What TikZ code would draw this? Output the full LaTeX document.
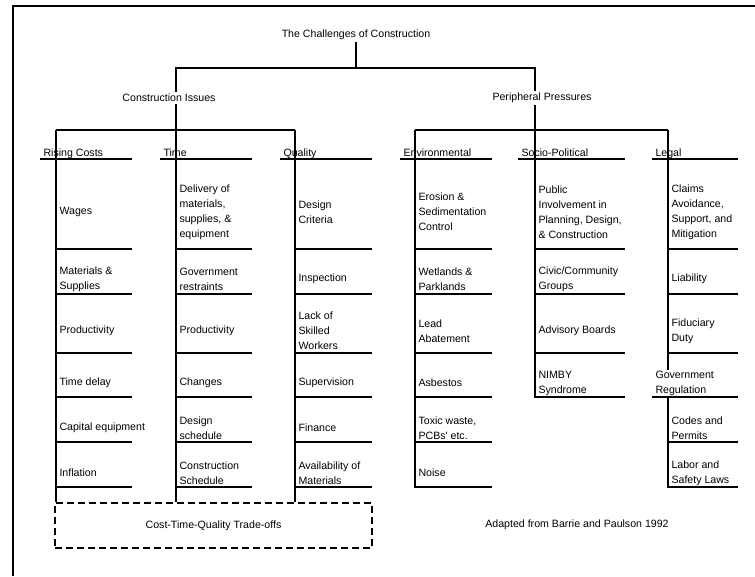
\documentclass[tikz,border=0pt]{standalone}
\usepackage{fontspec}
\setmainfont{Liberation Sans}

\begin{document}
\begin{tikzpicture}[x=1pt, y=-1pt, line width=1.1pt,
    every node/.style={font=\fontsize{10.6}{15}\selectfont},
    lbl/.style={inner sep=2pt},
    head/.style={anchor=base west, inner sep=0pt},
    cell/.style={anchor=west, align=left, inner sep=0pt},
    rule/.style={line width=1.5pt},
    tradeoff/.style={draw, line width=2pt, dash pattern=on 7pt off 4pt,
      minimum width=317pt, minimum height=45pt, inner sep=0pt}]
  \useasboundingbox (0,0) rectangle (755,576);
  \draw[line width=1.5pt] (13,576) -- (13,6);
  \draw[line width=2.5pt] (12.25,6) -- (755,6);

  \node[lbl] (top) at (356,35) {The Challenges of Construction};
  \node[lbl] (ci) at (169,98) {Construction Issues};
  \node[lbl] (pp) at (542,98) {Peripheral Pressures};
  \node[tradeoff] (box) at (213.5,525.5) {Cost-Time-Quality Trade-offs};
  \node[lbl] (src) at (577,525) {Adapted from Barrie and Paulson 1992};

  \coordinate (hub) at (top.south |- 0,68);
  \coordinate (rcx) at (56,130);
  \coordinate (tmx) at (176,130);
  \coordinate (qlx) at (295,130);
  \coordinate (envx) at (415,130);
  \coordinate (socx) at (535,130);
  \coordinate (lglx) at (668,130);

  \foreach \n/\l/\r/\t in {rc/40/132/Rising Costs, tm/160/252/Time,
      ql/280/372/Quality, env/400/492/Environmental,
      soc/518/625/Socio-Political, lgl/652/738/Legal} {
    \node[head] (\n) at (\l+3,156.5) {\t};
    \draw[rule] (\l,159) -- (\r,159);
  }

  \foreach \y/\t [count=\i] in {212/Wages, 279/{Materials \&\\Supplies},
      331/Productivity, 383/Time delay, 428/Capital equipment, 473/Inflation}
    \node[cell] (rc\i) at (59,\y) {\t};
  \foreach \y/\t [count=\i] in {212/{Delivery of\\materials,\\supplies, \&\\equipment},
      279/{Government\\restraints}, 331/Productivity, 383/Changes,
      428/{Design\\schedule}, 473/{Construction\\Schedule}}
    \node[cell] (tm\i) at (179,\y) {\t};
  \foreach \y/\t [count=\i] in {212/{Design\\Criteria}, 279/Inspection,
      331/{Lack of\\Skilled\\Workers}, 383/Supervision, 428/Finance,
      473/{Availability of\\Materials}}
    \node[cell] (ql\i) at (298,\y) {\t};
  \foreach \y/\t [count=\i] in {212/{Erosion \&\\Sedimentation\\Control},
      279/{Wetlands \&\\Parklands}, 331/{Lead\\Abatement}, 383/Asbestos,
      428/{Toxic waste,\\PCBs\textquotesingle{} etc.}, 473/Noise}
    \node[cell] (env\i) at (418,\y) {\t};
  \foreach \y/\t [count=\i] in {212/{Public\\Involvement in\\Planning, Design,\\\& Construction},
      279/{Civic/Community\\Groups}, 331/Advisory Boards, 383/{NIMBY\\Syndrome}}
    \node[cell] (soc\i) at (538,\y) {\t};
  \foreach \y/\t [count=\i] in {212/{Claims\\Avoidance,\\Support, and\\Mitigation},
      279/Liability, 331/{Fiduciary\\Duty}}
    \node[cell] (lgl\i) at (671,\y) {\t};
  \node[cell] (gov) at (655,383) {Government\\Regulation};
  \foreach \y/\t [count=\i] in {428/{Codes and\\Permits}, 473/{Labor and\\Safety Laws}}
    \node[cell] (reg\i) at (671,\y) {\t};

  \foreach \x/\r in {56/132, 176/252, 295/372, 415/492}
    \foreach \y in {249,294,353,397,442,487}
      \draw[rule] (\x,\y) -- (\r,\y);
  \foreach \y in {249,294,353,397}
    \draw[rule] (535,\y) -- (625,\y);
  \foreach \y in {249,294,353,442,487}
    \draw[rule] (668,\y) -- (738,\y);
  \draw[rule] (652,397) -- (738,397);

  \draw (top.south) -- (hub);
  \draw (ci.north -| tmx) |- (hub) -| (pp.north -| socx);
  \draw (rcx) -- (qlx);
  \draw (envx) -- (lglx);
  \draw (ci.south -| tmx) -- (tmx |- box.north);
  \draw (rcx) -- (rcx |- box.north);
  \draw (qlx) -- (qlx |- box.north);
  \draw (envx) -- (envx |- 0,487.75);
  \draw (pp.south -| socx) -- (socx |- 0,397.75);
  \draw (lglx) -- (lglx |- gov.north);
  \draw[line width=1.5pt] (lglx |- 0,397) -- (lglx |- 0,487.75);
\end{tikzpicture}
\end{document}
